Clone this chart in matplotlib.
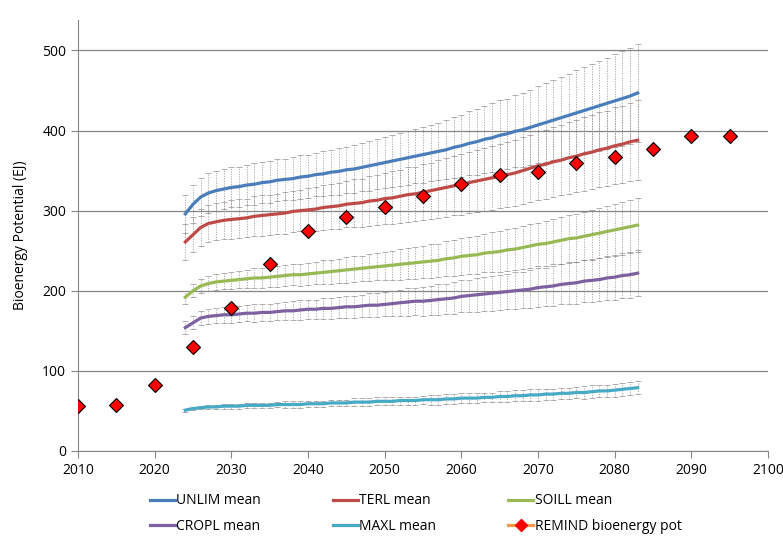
import numpy as np
import matplotlib.pyplot as plt
from matplotlib.lines import Line2D

# Vuodet 2024-2083 (mallisarjat) ja REMIND-pisteet
years = list(range(2024, 2084))

unlim = [296, 308, 317, 322, 325, 327, 329, 330, 332, 333,
         335, 336, 338, 339, 340, 342, 343, 345, 346, 348,
         349, 351, 352, 354, 356, 358, 360, 362, 364, 366,
         368, 370, 372, 374, 376, 379, 381, 384, 386, 389,
         391, 394, 396, 399, 401, 404, 407, 410, 413, 416,
         419, 422, 425, 428, 431, 434, 437, 440, 443, 447]
unlim_err = [24, 24, 24, 25, 25, 25, 25, 25, 25, 26,
             26, 26, 26, 26, 27, 27, 27, 27, 28, 28,
             29, 29, 30, 30, 31, 31, 32, 32, 33, 34,
             34, 35, 35, 36, 37, 38, 39, 40, 41, 42,
             43, 44, 44, 45, 46, 47, 48, 49, 50, 51,
             52, 53, 54, 55, 56, 57, 58, 59, 60, 61]

terl = [261, 270, 279, 284, 286, 288, 289, 290, 291, 293,
        294, 295, 296, 297, 299, 300, 301, 302, 304, 305,
        306, 308, 309, 310, 312, 313, 315, 316, 318, 320,
        321, 323, 325, 327, 329, 331, 333, 335, 337, 339,
        341, 343, 345, 347, 350, 353, 356, 358, 361, 363,
        366, 368, 371, 373, 376, 378, 381, 383, 386, 388]
terl_err = [22, 22, 23, 23, 23, 23, 24, 24, 24, 25,
            25, 25, 25, 26, 26, 26, 27, 27, 28, 28,
            29, 29, 30, 30, 31, 31, 32, 33, 33, 34,
            34, 35, 35, 36, 37, 37, 38, 38, 39, 39,
            40, 40, 41, 41, 42, 42, 43, 43, 44, 44,
            45, 45, 46, 46, 47, 47, 48, 48, 49, 50]

soil = [192, 200, 206, 209, 211, 212, 213, 214, 215, 216,
        216, 217, 218, 219, 220, 220, 221, 222, 223, 224,
        225, 226, 227, 228, 229, 230, 231, 232, 233, 234,
        235, 236, 237, 238, 240, 241, 243, 244, 245, 247,
        248, 249, 251, 252, 254, 256, 258, 259, 261, 263,
        265, 266, 268, 270, 272, 274, 276, 278, 280, 282]
soil_err = [8, 8, 9, 9, 10, 10, 11, 11, 11, 12,
            12, 12, 13, 13, 13, 14, 14, 14, 15, 15,
            15, 16, 16, 16, 17, 17, 17, 18, 19, 19,
            20, 20, 21, 21, 22, 22, 23, 23, 24, 24,
            25, 25, 26, 26, 27, 27, 27, 28, 28, 29,
            29, 30, 30, 31, 31, 32, 32, 33, 33, 34]

cropl = [154, 160, 166, 168, 169, 170, 170, 171, 172, 172,
         173, 173, 174, 175, 175, 176, 177, 177, 178, 178,
         179, 180, 180, 181, 182, 182, 183, 184, 185, 186,
         187, 187, 188, 189, 190, 191, 193, 194, 195, 196,
         197, 198, 199, 200, 201, 202, 204, 205, 206, 208,
         209, 210, 212, 213, 214, 216, 217, 219, 220, 222]
cropl_err = [8, 8, 9, 9, 9, 10, 10, 10, 10, 11,
             11, 11, 11, 11, 12, 12, 12, 12, 13, 13,
             13, 14, 14, 14, 15, 15, 15, 16, 16, 17,
             17, 18, 18, 19, 19, 20, 20, 20, 21, 21,
             22, 22, 22, 23, 23, 24, 24, 24, 25, 25,
             26, 26, 26, 27, 27, 28, 28, 28, 29, 29]

maxl = [51, 53, 54, 55, 55, 56, 56, 56, 57, 57,
        57, 57, 58, 58, 58, 58, 59, 59, 59, 60,
        60, 60, 61, 61, 61, 62, 62, 62, 63, 63,
        63, 64, 64, 64, 65, 65, 66, 66, 66, 67,
        67, 68, 68, 69, 69, 70, 70, 71, 71, 72,
        72, 73, 73, 74, 75, 75, 76, 77, 78, 79]
maxl_err = [2, 2, 2, 2, 3, 3, 3, 3, 3, 3,
            3, 3, 3, 4, 4, 4, 4, 4, 4, 4,
            4, 4, 5, 5, 5, 5, 5, 5, 5, 5,
            5, 5, 6, 6, 6, 6, 6, 6, 6, 6,
            6, 7, 7, 7, 7, 7, 7, 7, 7, 7,
            7, 7, 8, 8, 8, 8, 8, 8, 8, 8]

remind_years = [2010, 2015, 2020, 2025, 2030, 2035, 2040, 2045, 2050,
                2055, 2060, 2065, 2070, 2075, 2080, 2085, 2090, 2095]
remind = [56, 58, 82, 130, 179, 233, 275, 292, 305,
          318, 333, 345, 348, 360, 367, 377, 393, 393]

series = [
    ('UNLIM mean', unlim, unlim_err, '#4A7EBB'),
    ('TERL mean', terl, terl_err, '#BE4B48'),
    ('SOILL mean', soil, soil_err, '#98B954'),
    ('CROPL mean', cropl, cropl_err, '#7D60A0'),
    ('MAXL mean', maxl, maxl_err, '#46AAC5'),
]

plt.rcParams['font.family'] = ['Open Sans', 'DejaVu Sans']

fig = plt.figure(figsize=(7.83, 5.37), dpi=100)
ax = fig.add_axes([78 / 783, 1 - 451 / 537, 690 / 783, 431 / 537])

handles = {}
for name, vals, err, col in series:
    eb = ax.errorbar(years, vals, yerr=err, fmt='none', ecolor='#8a8080',
                     elinewidth=0.6, capsize=2.5, capthick=0.6, alpha=0.75, zorder=2)
    eb[2][0].set_linestyle((0, (1.5, 1.5)))
    ax.plot(years, vals, color=col, linewidth=2.3, zorder=3)
    handles[name] = Line2D([], [], color=col, linewidth=2.3)

# REMIND-pisteet punaisina salmiakkeina
ax.plot(remind_years, remind, linestyle='none', marker='D', markersize=7,
        markerfacecolor='#FF0000', markeredgecolor='black', markeredgewidth=0.8, zorder=4)
handles['REMIND bioenergy pot'] = Line2D([], [], color='#F79646', linewidth=2.3, marker='D',
                                         markersize=6, markerfacecolor='#FF0000',
                                         markeredgecolor='#FF0000')

ax.set_xlim(2010, 2100)
ax.set_ylim(0, 538)
ax.set_xticks(range(2010, 2101, 10))
ax.set_yticks(range(0, 501, 100))
ax.yaxis.grid(True, color='#868686', linewidth=0.9)
ax.set_axisbelow(True)
for s in ['top', 'right']:
    ax.spines[s].set_visible(False)
for s in ['left', 'bottom']:
    ax.spines[s].set_color('#868686')
ax.tick_params(axis='both', colors='#868686', labelcolor='black', labelsize=10,
               direction='out', length=5)
ax.set_ylabel('Bioenergy Potential (EJ)', fontsize=10, labelpad=10)

# Selite kuvaajan alle, rivi kerrallaan
order = ['UNLIM mean', 'CROPL mean', 'TERL mean', 'MAXL mean',
         'SOILL mean', 'REMIND bioenergy pot']
fig.legend([handles[k] for k in order], order, loc='upper left',
           bbox_to_anchor=(137 / 783, 1 - 481 / 537), ncol=3, frameon=False, fontsize=10,
           handlelength=1.8, handletextpad=0.1, columnspacing=5.2, labelspacing=0.75)

fig.savefig('out.png', dpi=100)
